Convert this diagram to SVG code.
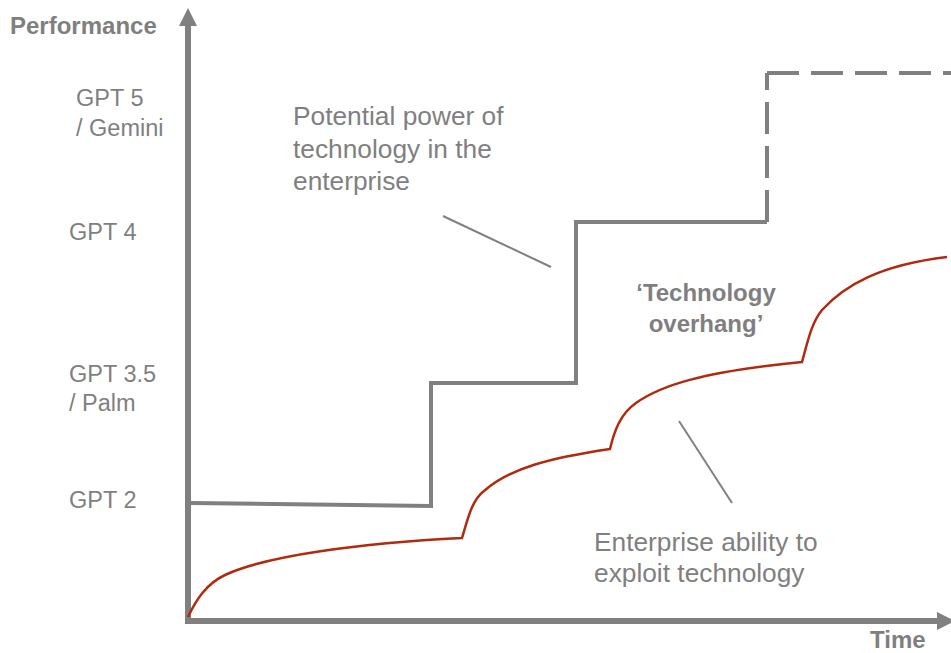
<svg xmlns="http://www.w3.org/2000/svg" width="951" height="653" viewBox="0 0 951 653">
<style>
.lbl{font-family:"Liberation Sans",Arial,sans-serif;fill:#7f7f7f}
.b{font-weight:bold;font-size:24px}
.g{font-size:23.5px}
.a{font-size:26.3px}
.axis{stroke:#808080;stroke-width:6;fill:none}
.step{stroke:#808080;stroke-width:4;fill:none}
.dash{stroke:#808080;stroke-width:4;fill:none;stroke-dasharray:32 12}
.red{stroke:#b02a10;stroke-width:2.5;fill:none}
.lead{stroke:#808080;stroke-width:2;fill:none}
</style>
<rect width="951" height="653" fill="#fff"/>
<g id="axes">
<path class="axis" d="M188,624 V24"/>
<path class="axis" d="M185,621 H938"/>
<polygon points="188,8 179,26 197,26" fill="#808080"/>
<polygon points="955,621 937,612 937,630" fill="#808080"/>
<text class="lbl b" x="10" y="34">Performance</text>
<text class="lbl b" x="870" y="648">Time</text>
</g>
<g id="y-labels">
<text class="lbl g" x="76" y="106">GPT 5</text>
<text class="lbl g" x="76" y="136">/ Gemini</text>
<text class="lbl g" x="69" y="240">GPT 4</text>
<text class="lbl g" x="69" y="382">GPT 3.5</text>
<text class="lbl g" x="69" y="411">/ Palm</text>
<text class="lbl g" x="69" y="508">GPT 2</text>
</g>
<g id="potential-line">
<path class="step" d="M190,503 L431,506 V383 H576 V222 H767"/>
<path class="dash" d="M767,222 V73"/>
<path class="dash" d="M767,73 H951"/>
</g>
<g id="ability-curve">
<path class="red" d="M188,617 C196,600 206,584 225,575 C265,556 360,543 462,538 C468,518 472,500 484,491 C510,468 550,458 610,449 C614,432 620,414 636,403 C660,386 700,372 802,362 C808,340 812,322 822,310 C845,285 880,265 947,257"/>
</g>
<g id="connectors">
<line class="lead" x1="443" y1="216" x2="551" y2="267"/>
<line class="lead" x1="679" y1="421" x2="732" y2="503"/>
</g>
<g id="potential-label">
<text class="lbl a" x="293" y="125">Potential power of</text>
<text class="lbl a" x="293" y="158">technology in the</text>
<text class="lbl a" x="293" y="190">enterprise</text>
</g>
<g id="overhang-label">
<text class="lbl b" x="706" y="301" text-anchor="middle">‘Technology</text>
<text class="lbl b" x="706" y="332" text-anchor="middle">overhang’</text>
</g>
<g id="ability-label">
<text class="lbl a" x="594" y="551">Enterprise ability to</text>
<text class="lbl a" x="594" y="582">exploit technology</text>
</g>
</svg>
